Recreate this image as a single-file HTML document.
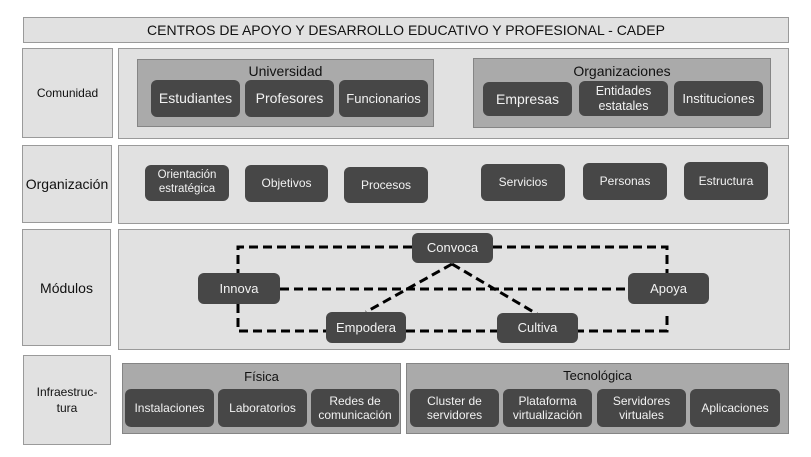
<!DOCTYPE html>
<html><head><meta charset="utf-8"><style>
body{margin:0;width:811px;height:457px;background:#fff;position:relative;overflow:hidden;font-family:"Liberation Sans",sans-serif}
.a{position:absolute;box-sizing:border-box}
.p{background:#e1e1e1;border:1.5px solid #9a9a9a}
.g{background:#aaaaaa;border:1.5px solid #858585}
.d{background:#474747;border-radius:6px;color:#f2f2f2;display:flex;align-items:center;justify-content:center;text-align:center;line-height:1.2}
.l{display:flex;align-items:center;justify-content:center;text-align:center;color:#111}
.t{color:#111;text-align:center;font-size:14px}
</style></head><body>
<div class="a p l" style="left:23px;top:17px;width:766px;height:26px;font-size:14px">CENTROS DE APOYO Y DESARROLLO EDUCATIVO Y PROFESIONAL - CADEP</div>

<div class="a p l" style="left:22px;top:48px;width:91px;height:90px;font-size:12px">Comunidad</div>
<div class="a p l" style="left:22px;top:145px;width:90px;height:78px;font-size:14px">Organización</div>
<div class="a p l" style="left:22px;top:229px;width:89px;height:117px;font-size:14px">Módulos</div>
<div class="a p l" style="left:23px;top:355px;width:88px;height:90px;font-size:12px;line-height:1.35">Infraestruc-<br>tura</div>

<div class="a p" style="left:118px;top:48px;width:671px;height:91px"></div>
<div class="a p" style="left:118px;top:145px;width:671px;height:79px"></div>
<div class="a p" style="left:118px;top:229px;width:672px;height:121px"></div>

<div class="a g" style="left:137px;top:59px;width:297px;height:68px"><div class="t" style="margin-top:3px">Universidad</div></div>
<div class="a d" style="left:151px;top:80px;width:89px;height:37px;font-size:14px">Estudiantes</div>
<div class="a d" style="left:245px;top:80px;width:89px;height:37px;font-size:14px">Profesores</div>
<div class="a d" style="left:339px;top:80px;width:89px;height:37px;font-size:13px">Funcionarios</div>

<div class="a g" style="left:473px;top:58px;width:298px;height:70px"><div class="t" style="margin-top:4px">Organizaciones</div></div>
<div class="a d" style="left:483px;top:82px;width:89px;height:34px;font-size:14px">Empresas</div>
<div class="a d" style="left:579px;top:81px;width:89px;height:35px;font-size:12.5px">Entidades<br>estatales</div>
<div class="a d" style="left:674px;top:81px;width:89px;height:35px;font-size:13px">Instituciones</div>

<div class="a d" style="left:145px;top:165px;width:84px;height:36px;font-size:11.5px">Orientación<br>estratégica</div>
<div class="a d" style="left:245px;top:165px;width:83px;height:37px;font-size:12px">Objetivos</div>
<div class="a d" style="left:344px;top:167px;width:84px;height:36px;font-size:12px">Procesos</div>
<div class="a d" style="left:481px;top:164px;width:84px;height:37px;font-size:12px">Servicios</div>
<div class="a d" style="left:583px;top:163px;width:84px;height:37px;font-size:12px">Personas</div>
<div class="a d" style="left:684px;top:162px;width:84px;height:38px;font-size:12px">Estructura</div>

<svg class="a" style="left:0;top:0" width="811" height="457">
<g stroke="#000" stroke-width="3" stroke-dasharray="9,5" fill="none">
<polyline points="412,247 238,247 238,273"/>
<polyline points="238,304 238,331 326,331"/>
<polyline points="493,247 667,247 667,280"/>
<polyline points="667,316 667,331 578,331"/>
<line x1="280" y1="289" x2="628" y2="289"/>
<line x1="406" y1="331" x2="497" y2="331"/>
<line x1="452" y1="264" x2="366" y2="312"/>
<line x1="452" y1="264" x2="537" y2="314"/>
</g></svg>
<div class="a d" style="left:412px;top:233px;width:81px;height:30px;font-size:13px">Convoca</div>
<div class="a d" style="left:198px;top:273px;width:82px;height:31px;font-size:13px">Innova</div>
<div class="a d" style="left:628px;top:273px;width:81px;height:31px;font-size:13px">Apoya</div>
<div class="a d" style="left:326px;top:312px;width:80px;height:31px;font-size:13px">Empodera</div>
<div class="a d" style="left:497px;top:313px;width:81px;height:30px;font-size:13px">Cultiva</div>

<div class="a g" style="left:122px;top:363px;width:279px;height:71px"><div class="t" style="margin-top:5px;font-size:13px">Física</div></div>
<div class="a d" style="left:125px;top:389px;width:89px;height:38px;font-size:12px">Instalaciones</div>
<div class="a d" style="left:218px;top:389px;width:89px;height:38px;font-size:12px">Laboratorios</div>
<div class="a d" style="left:311px;top:389px;width:88px;height:38px;font-size:12px">Redes de<br>comunicación</div>

<div class="a g" style="left:406px;top:363px;width:383px;height:71px"><div class="t" style="margin-top:4px;font-size:13px">Tecnológica</div></div>
<div class="a d" style="left:410px;top:389px;width:89px;height:38px;font-size:12px">Cluster de<br>servidores</div>
<div class="a d" style="left:503px;top:389px;width:89px;height:38px;font-size:12px">Plataforma<br>virtualización</div>
<div class="a d" style="left:597px;top:389px;width:89px;height:38px;font-size:12px">Servidores<br>virtuales</div>
<div class="a d" style="left:690px;top:389px;width:90px;height:38px;font-size:12px">Aplicaciones</div>
</body></html>
